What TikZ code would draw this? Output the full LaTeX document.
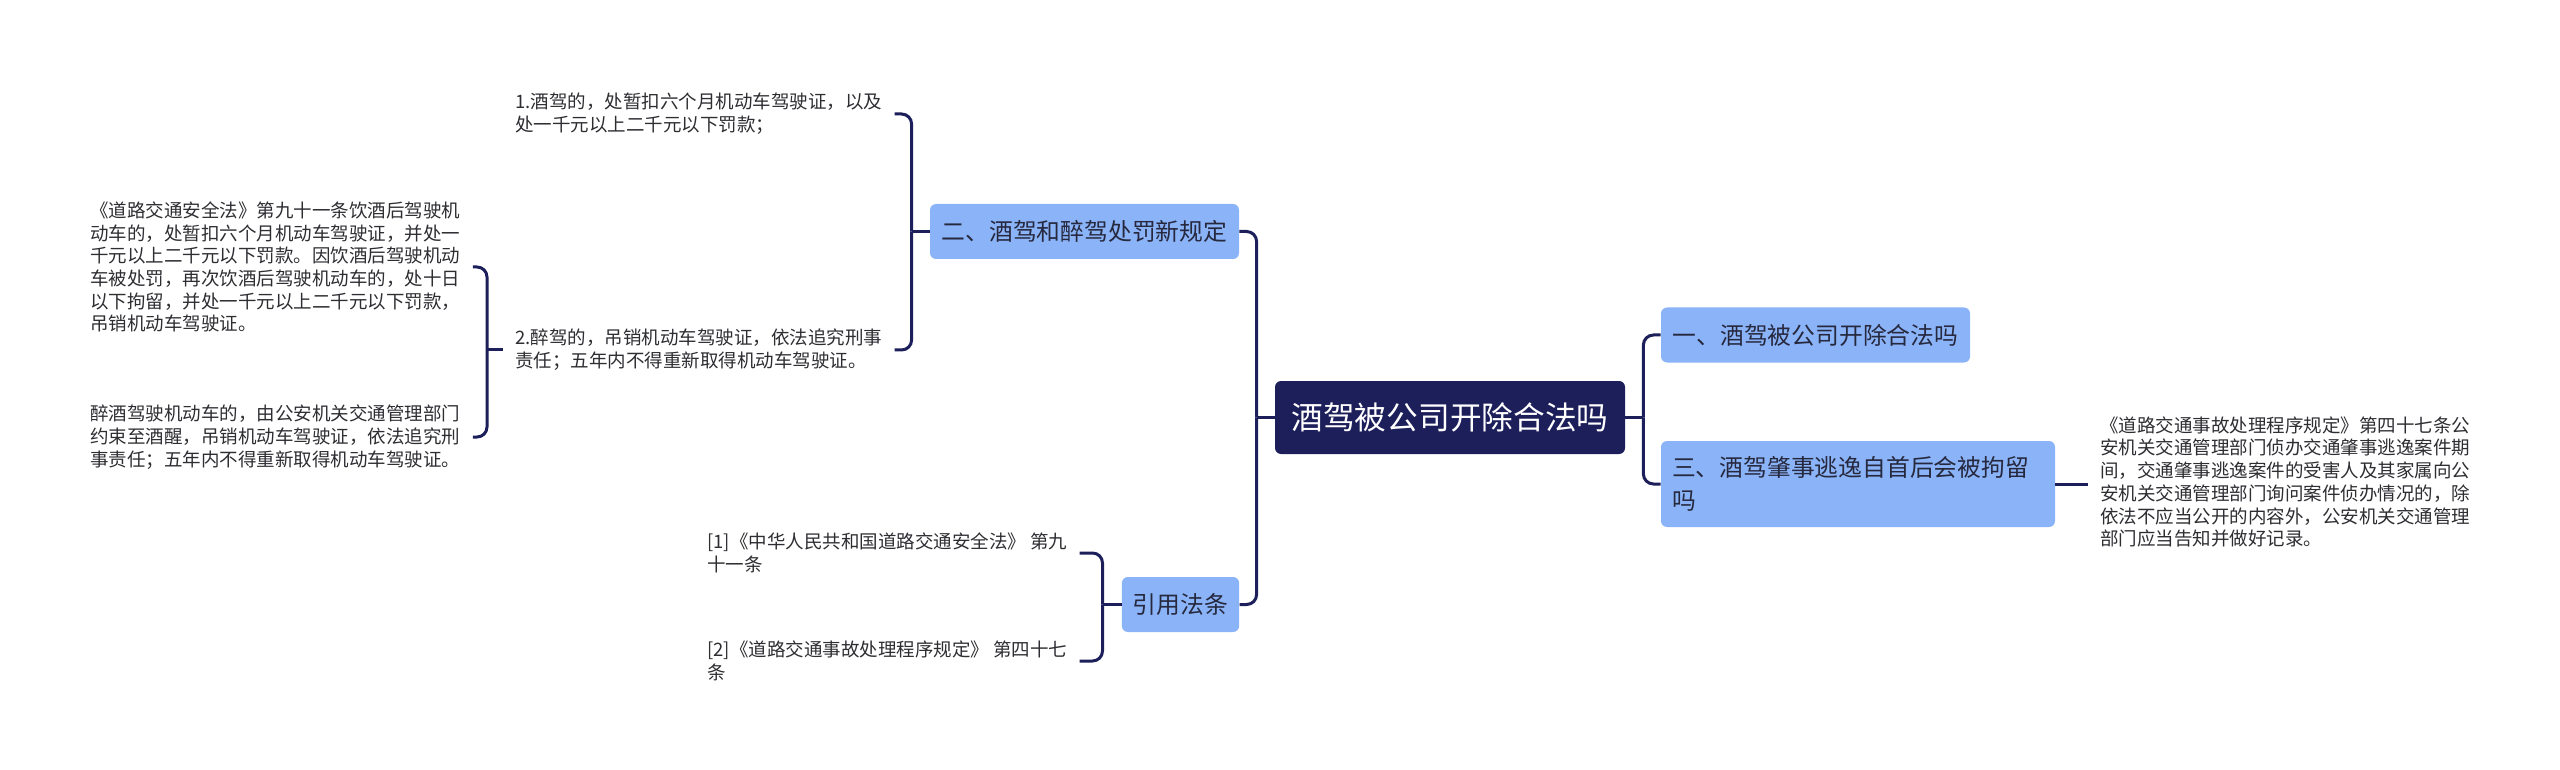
\documentclass[tikz,border=0pt]{standalone}
\usepackage{fontspec}
\setmainfont{Noto Sans CJK SC}
\definecolor{navy}{RGB}{29,31,91}
\definecolor{nodeblue}{RGB}{139,180,248}
\definecolor{topictext}{RGB}{38,40,62}
\definecolor{leaftext}{RGB}{45,45,50}
\newcommand{\leaffont}{\fontsize{9.25pt}{11.35pt}\selectfont}
\newcommand{\topicfont}{\fontsize{11.9pt}{16.5pt}\selectfont}
\newcommand{\rootfont}{\fontsize{15.85pt}{19pt}\selectfont}
\begin{document}
\begin{tikzpicture}[x=0.5pt,y=-0.5pt,
  rootbox/.style={fill=navy, rounded corners=3pt, text=white, font=\rootfont,
    minimum width=175pt, minimum height=36.5pt, inner sep=0pt},
  topic/.style={fill=nodeblue, rounded corners=3pt, text=topictext, font=\topicfont,
    minimum height=27.5pt, inner xsep=5.5pt, inner ysep=0pt},
  leaf/.style={text=leaftext, font=\leaffont, align=left, inner xsep=6pt,
    inner ysep=2pt, anchor=west},
  conn/.style={draw=navy, line width=1.5pt, rounded corners=5pt}]
\useasboundingbox (0,0) rectangle (2560,770);
% main nodes
\node[rootbox] (root) at (1450,417.5) {酒驾被公司开除合法吗};
\node[topic, minimum width=154.5pt] (n1) at (1815.5,335) {一、酒驾被公司开除合法吗};
\node[topic, text width=186pt, align=left, minimum height=43pt] (n3) at (1858,484)
  {三、酒驾肇事逃逸自首后会被拘留\\吗};
\node[topic, minimum width=154.5pt] (n2) at (1084.5,231.5) {二、酒驾和醉驾处罚新规定};
\node[topic, minimum width=58.5pt] (law) at (1180.5,604.5) {引用法条};
% leaves
\node[leaf] (t1) at (503,114) {1.酒驾的，处暂扣六个月机动车驾驶证，以及\\处一千元以上二千元以下罚款；};
\node[leaf] (t2) at (503,350) {2.醉驾的，吊销机动车驾驶证，依法追究刑事\\责任；五年内不得重新取得机动车驾驶证。};
\node[leaf] (tA) at (78,267) {《道路交通安全法》第九十一条饮酒后驾驶机\\动车的，处暂扣六个月机动车驾驶证，并处一\\千元以上二千元以下罚款。因饮酒后驾驶机动\\车被处罚，再次饮酒后驾驶机动车的，处十日\\以下拘留，并处一千元以上二千元以下罚款，\\吊销机动车驾驶证。};
\node[leaf] (tB) at (78,437) {醉酒驾驶机动车的，由公安机关交通管理部门\\约束至酒醒，吊销机动车驾驶证，依法追究刑\\事责任；五年内不得重新取得机动车驾驶证。};
\node[leaf] (c1) at (695,553) {[1]《中华人民共和国道路交通安全法》 第九\\十一条};
\node[leaf] (c2) at (695,661) {[2]《道路交通事故处理程序规定》 第四十七\\条};
\node[leaf] (tR) at (2088,482) {《道路交通事故处理程序规定》第四十七条公\\安机关交通管理部门侦办交通肇事逃逸案件期\\间，交通肇事逃逸案件的受害人及其家属向公\\安机关交通管理部门询问案件侦办情况的，除\\依法不应当公开的内容外，公安机关交通管理\\部门应当告知并做好记录。};
% connectors
\draw[conn] (root.west) -- ++(-18,0) coordinate (jl);
\draw[conn] (jl) |- (n2.east);
\draw[conn] (jl) |- (law.east);
\draw[conn] (root.east) -- ++(18,0) coordinate (jr);
\draw[conn] (jr) |- (n1.west);
\draw[conn] (jr) |- (n3.west);
\draw[conn] (n3.east) -- (n3.east -| tR.west);
\draw[conn] (n2.west) -- ++(-18,0) coordinate (j2);
\draw[conn] (j2) |- (t1.east);
\draw[conn] (j2) |- (t2.east);
\draw[conn] (t2.west) -- ++(-16,0) coordinate (j3);
\draw[conn] (j3) |- (tA.east);
\draw[conn] (j3) |- (tB.east);
\draw[conn] (law.west) -- ++(-19,0) coordinate (j4);
\draw[conn] (j4) |- (c1.east);
\draw[conn] (j4) |- (c2.east);
\end{tikzpicture}
\end{document}
